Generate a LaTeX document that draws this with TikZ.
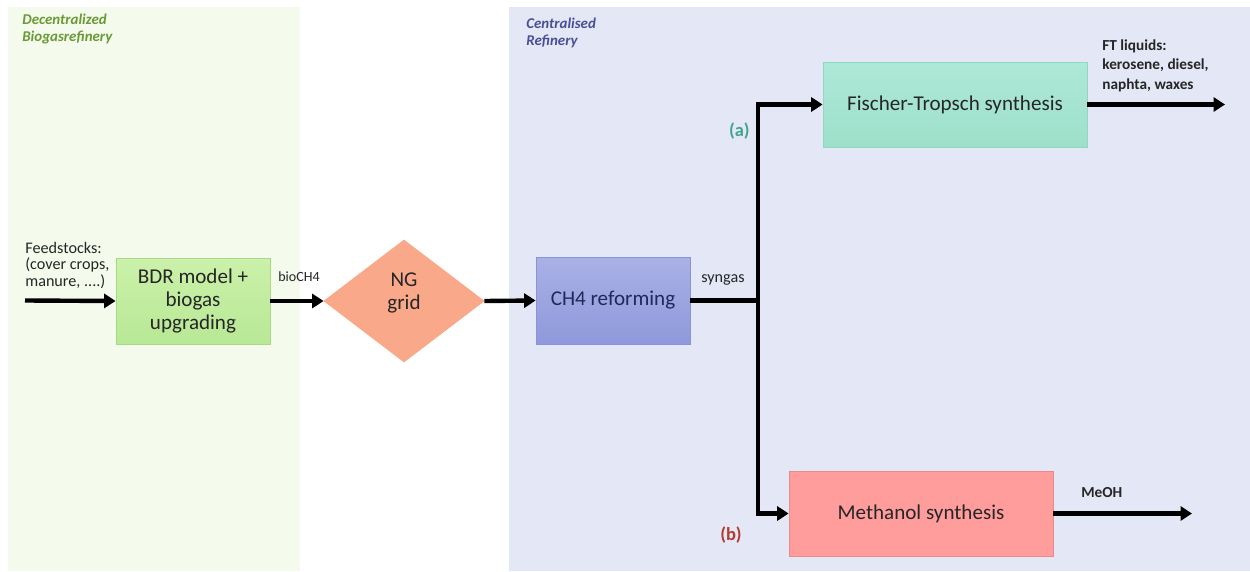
\documentclass[tikz,border=0pt]{standalone}
\usepackage{fontspec}
\setmainfont{Carlito}
\usetikzlibrary{shapes.geometric,arrows.meta}

\definecolor{decbg}{HTML}{F4FAEC}
\definecolor{cenbg}{HTML}{E4E7F6}
\definecolor{dectxt}{HTML}{6A9A35}
\definecolor{centxt}{HTML}{4A4E96}
\definecolor{bdrtop}{HTML}{CBF1AA}
\definecolor{bdrbot}{HTML}{B8E895}
\definecolor{bdrline}{HTML}{A8DA86}
\definecolor{gridfill}{HTML}{F9A98A}
\definecolor{reftop}{HTML}{AAB1E6}
\definecolor{refbot}{HTML}{8F98DB}
\definecolor{refline}{HTML}{8A93D6}
\definecolor{reftxt}{HTML}{1F2A5A}
\definecolor{fttop}{HTML}{AEE8D7}
\definecolor{ftbot}{HTML}{9DE0CA}
\definecolor{ftline}{HTML}{90D8C0}
\definecolor{mefill}{HTML}{FF9C9C}
\definecolor{meline}{HTML}{E98A8A}
\definecolor{tagA}{HTML}{41A58D}
\definecolor{tagB}{HTML}{B23A2E}
\definecolor{ink}{HTML}{262626}

\tikzset{
  flow/.style={line width=2.5pt,-{Triangle[length=6.5pt,width=8pt]}},
  pipe/.style={line width=2.5pt},
  unit/.style={draw,line width=0.5pt,inner sep=0pt,align=center,
    font=\fontsize{12}{13.3}\selectfont,text=ink},
  note/.style={inner sep=0pt,align=left,text=ink},
  small/.style={note,font=\fontsize{9.2}{9.4}\selectfont},
  tiny/.style={note,font=\fontsize{8}{9}\selectfont},
  product/.style={note,font=\fontsize{8.7}{11.3}\selectfont\bfseries},
  zone/.style={inner sep=0pt,align=left,font=\fontsize{8.5}{9.6}\selectfont\bfseries\itshape},
  tag/.style={inner sep=0pt,font=\fontsize{10.5}{12}\selectfont\bfseries}
}

\begin{document}
\begin{tikzpicture}[x=0.02cm,y=-0.02cm]
\useasboundingbox (0,0) rectangle (1250,571);
\fill[white] (0,0) rectangle (1250,571);

% site areas
\fill[decbg] (8,7) rectangle (300,571);
\fill[cenbg] (509,7) rectangle (1250,571);
\node[zone,text=dectxt,anchor=north west] (decname) at (22,14) {Decentralized\\Biogasrefinery};
\node[zone,text=centxt,anchor=north west] (cenname) at (526,18) {Centralised\\Refinery};

% process units
\node[unit,draw=bdrline,top color=bdrtop,bottom color=bdrbot,minimum width=3.08cm,minimum height=1.72cm] (bdr) at (193,301) {BDR model +\\biogas\\upgrading};
\node[unit,diamond,draw=gridfill,fill=gridfill,text depth=11.5pt,minimum width=3.2cm,minimum height=2.44cm] (grid) at (404,301) {NG\\grid};
\node[unit,draw=refline,top color=reftop,bottom color=refbot,text=reftxt,minimum width=3.08cm,minimum height=1.74cm] (ref) at (613,300.5) {CH4 reforming};
\node[unit,draw=ftline,top color=fttop,bottom color=ftbot,minimum width=5.28cm,minimum height=1.7cm] (ft) at (955,104.5) {Fischer-Tropsch synthesis};
\node[unit,draw=meline,fill=mefill,minimum width=5.28cm,minimum height=1.7cm] (meoh) at (921,513.5) {Methanol synthesis};

% free ends and branch point
\coordinate (feedin) at (25,300.5);
\coordinate (split) at (758,300.5);
\coordinate (ftout) at (1225,104.5);
\coordinate (meout) at (1192,513.5);

% streams
\draw[flow] (feedin) -- (bdr.west);
\draw[flow] (bdr.east) -- (grid.west);
\draw[flow] (grid.east) -- (ref.west);
\draw[pipe] (ref.east) -- (split);
\draw[flow] (split) |- (ft.west);
\draw[flow] (split) |- (meoh.west);
\draw[flow] (ft.east) -- (ftout);
\draw[flow] (meoh.east) -- (meout);

% stream labels
\node[small,anchor=north west] (feed) at (25,241.5) {Feedstocks:\\(cover crops,\\manure, ....)};
\node[tiny,anchor=base west] (bioch4) at (278,281) {bioCH4};
\node[small,anchor=base west] (syngas) at (701,282) {syngas};
\node[product,anchor=north west] (ftliq) at (1102,39) {FT liquids:\\kerosene, diesel,\\naphta, waxes};
\node[product,anchor=base west] (meohlbl) at (1081,497) {MeOH};
\node[tag,text=tagA,anchor=base east] (taga) at (750,136) {(a)};
\node[tag,text=tagB,anchor=base east] (tagb) at (742,540) {(b)};
\end{tikzpicture}
\end{document}
